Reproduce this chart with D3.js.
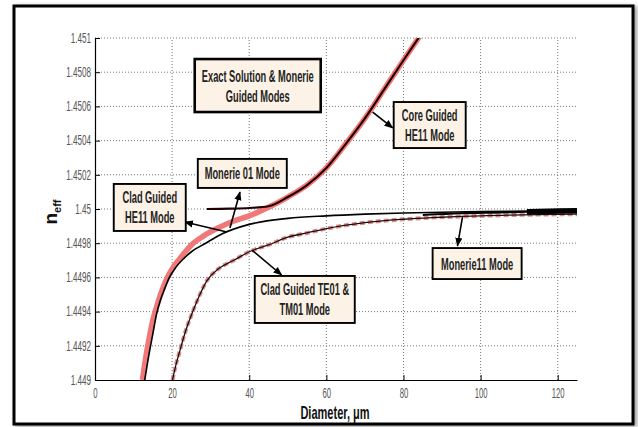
<!DOCTYPE html>
<html lang="en">
<head>
<meta charset="UTF-8" />
<title>n_eff vs Diameter</title>
<script src="https://d3js.org/d3.v7.min.js"></script>
<style>
  body { margin: 0; background: #fff; }
  svg { display: block; }
  .tick-lbl { font-family: "Liberation Sans", Arial, sans-serif; font-size: 14px; fill: #555; }
  .note { font-family: "Liberation Sans", Arial, sans-serif; font-size: 16px; font-weight: bold; fill: #222; }
  .axis-title { font-family: "Liberation Sans", Arial, sans-serif; font-weight: bold; fill: #111; }
</style>
</head>
<body>
<svg width="638" height="427"></svg>
<script>
  // ticks
  const xTicks = [0, 20, 40, 60, 80, 100, 120];
  const yTicks = [1.449, 1.4492, 1.4494, 1.4496, 1.4498, 1.45, 1.4502, 1.4504, 1.4506, 1.4508, 1.451];
  const yTickLabels = ["1.449", "1.4492", "1.4494", "1.4496", "1.4498", "1.45", "1.4502", "1.4504", "1.4506", "1.4508", "1.451"];

  // exact solution, core guided HE11 (pink)
  const coreX = [12.3, 13, 14, 15, 16, 17, 18, 19, 20, 22, 25, 28, 32, 36, 40, 45, 50, 55, 60, 65, 70, 75, 80, 84.5];
  const coreY = [1.449, 1.44911, 1.44924, 1.44935, 1.44943, 1.4495, 1.44956, 1.44961, 1.44965, 1.44971, 1.44979, 1.44984,
                 1.44989, 1.44993, 1.44996, 1.45001, 1.45007, 1.45014, 1.45024, 1.45038, 1.45053, 1.4507, 1.45087, 1.45102];

  // Monerie 01 mode (black, joins the core curve)
  const mon01X = [29, 35, 40, 45, 50, 55, 60, 65, 70, 75, 80, 84.5];
  const mon01Y = [1.45, 1.450002, 1.450006, 1.450016, 1.45007, 1.45014, 1.45024, 1.45038, 1.45053, 1.4507, 1.45087, 1.45102];

  // clad guided HE11 (black)
  const cladHEX = [12.9, 14, 15, 16, 17, 18, 19.3, 21, 23, 25, 28.7, 33, 40, 50, 60, 70, 80, 100, 125];
  const cladHEY = [1.449, 1.44915, 1.44927, 1.44939, 1.44947, 1.44953, 1.4496, 1.44966, 1.44971, 1.44975, 1.4498, 1.449855,
                   1.44991, 1.449945, 1.44996, 1.44997, 1.449977, 1.449985, 1.44999];

  // clad guided TE01 & TM01 (black with pink dashes)
  const teX = [20.1, 21, 22, 23, 24, 25, 27, 29, 32, 36, 40, 45, 50, 55, 60, 70, 80, 100, 125];
  const teY = [1.449, 1.44909, 1.44917, 1.44925, 1.44932, 1.44938, 1.44949, 1.44958, 1.44965, 1.4497, 1.44975, 1.44979,
               1.449835, 1.44986, 1.449885, 1.44992, 1.44994, 1.44996, 1.44997];

  // Monerie 11 mode (black, heavy at the right end)
  const mon11X = [85, 95, 105, 112, 118, 125];
  const mon11Y = [1.449965, 1.449975, 1.44998, 1.449984, 1.449987, 1.44999];

  // annotation boxes: centre in data units, text lines
  const notes = [
    { x: 42.2, y: 1.450722, w: 126, h: 53, lines: ["Exact Solution & Monerie", "Guided Modes"] },
    { x: 38.2, y: 1.450208, w: 89, h: 29, lines: ["Monerie 01 Mode"] },
    { x: 14.2, y: 1.450009, w: 72, h: 47, lines: ["Clad Guided", "HE11 Mode"] },
    { x: 86.8, y: 1.450491, w: 72, h: 46, lines: ["Core Guided", "HE11 Mode"] },
    { x: 54.4, y: 1.449471, w: 100, h: 47, lines: ["Clad Guided TE01 &", "TM01 Mode"] },
    { x: 99.1, y: 1.449681, w: 89, h: 31, lines: ["Monerie11 Mode"] }
  ];
  // arrows: from (x0,y0) to (x1,y1), data units
  const arrows = [
    { x0: 72, y0: 1.450567, x1: 77.2, y1: 1.450474 },
    { x0: 34.2, y0: 1.449865, x1: 23.3, y1: 1.449924 },
    { x0: 35, y0: 1.449889, x1: 37.6, y1: 1.450099 },
    { x0: 40.7, y0: 1.44976, x1: 48.4, y1: 1.449614 },
    { x0: 95.3, y0: 1.449953, x1: 94.0, y1: 1.449784 }
  ];

  const svg = d3.select("svg");
  const margin = { left: 95, right: 61, top: 38, bottom: 47 };
  const W = 638, H = 427;

  const x = d3.scaleLinear().domain([0, 125]).range([margin.left, W - margin.right]);
  const y = d3.scaleLinear().domain([1.449, 1.451]).range([H - margin.bottom, margin.top]);

  // squeeze text horizontally (narrow font look)
  function squeeze(sel, k) {
    sel.each(function () {
      const L = this.getComputedTextLength();
      d3.select(this).attr("textLength", L * k).attr("lengthAdjust", "spacingAndGlyphs");
    });
  }

  // frame with shadow
  const defs = svg.append("defs");
  const f = defs.append("filter").attr("id", "shadow").attr("x", "-5%").attr("y", "-5%").attr("width", "110%").attr("height", "110%");
  f.append("feGaussianBlur").attr("stdDeviation", 2);
  defs.append("clipPath").attr("id", "clip").append("rect")
    .attr("x", x(0)).attr("y", y(1.451)).attr("width", x(125) - x(0)).attr("height", y(1.449) - y(1.451));

  svg.append("rect").attr("x", 15).attr("y", 6).attr("width", 622).attr("height", 421)
    .attr("fill", "#999").attr("filter", "url(#shadow)");
  svg.append("rect").attr("x", 14).attr("y", 6).attr("width", 619).attr("height", 418)
    .attr("fill", "#fff").attr("stroke", "#000").attr("stroke-width", 3);

  // grid
  const grid = svg.append("g").attr("stroke", "#777").attr("stroke-width", 1).attr("stroke-dasharray", "1,2");
  grid.selectAll(".gx").data(xTicks.slice(1)).enter().append("line")
    .attr("x1", d => x(d)).attr("x2", d => x(d)).attr("y1", y(1.449)).attr("y2", y(1.451));
  grid.selectAll(".gy").data(yTicks.slice(1)).enter().append("line")
    .attr("x1", x(0)).attr("x2", x(125)).attr("y1", d => y(d)).attr("y2", d => y(d));

  // axes
  const xAxis = svg.append("g").attr("transform", `translate(0,${y(1.449)})`)
    .call(d3.axisBottom(x).tickValues(xTicks).tickSizeInner(-5).tickSizeOuter(0).tickPadding(8));
  const yAxis = svg.append("g").attr("transform", `translate(${x(0)},0)`)
    .call(d3.axisLeft(y).tickValues(yTicks).tickFormat((d, i) => yTickLabels[i]).tickSizeInner(-5).tickSizeOuter(0).tickPadding(4));
  [xAxis, yAxis].forEach(a => {
    a.select(".domain").attr("stroke", "#000").attr("stroke-width", 1.2);
    a.selectAll(".tick line").attr("stroke", "#000");
    a.selectAll(".tick text").attr("class", "tick-lbl").attr("font-family", null).attr("font-size", null);
  });
  yAxis.selectAll(".tick text").attr("dy", "0.3em");
  squeeze(yAxis.selectAll(".tick text"), 0.58);
  squeeze(xAxis.selectAll(".tick text"), 0.55);

  const line = (xs, ys) => d3.line().x(d => x(d[0])).y(d => y(d[1])).curve(d3.curveMonotoneX)(xs.map((v, i) => [v, ys[i]]));
  const plot = svg.append("g").attr("clip-path", "url(#clip)").attr("fill", "none");

  // TE01 pink dashes under black
  plot.append("path").attr("d", line(teX, teY)).attr("stroke", "#e58a8a").attr("stroke-width", 4).attr("stroke-dasharray", "5,3");
  plot.append("path").attr("d", line(teX, teY)).attr("stroke", "#111").attr("stroke-width", 1.3);
  // core pink
  plot.append("path").attr("d", line(coreX, coreY)).attr("stroke", "#f07878").attr("stroke-width", 5.5);
  // clad HE11
  plot.append("path").attr("d", line(cladHEX, cladHEY)).attr("stroke", "#000").attr("stroke-width", 1.6);
  // Monerie 01
  plot.append("path").attr("d", line(mon01X, mon01Y)).attr("stroke", "#200").attr("stroke-width", 2.1);
  // Monerie 11
  plot.append("path").attr("d", line(mon11X, mon11Y)).attr("stroke", "#000").attr("stroke-width", 2.2);
  plot.append("path").attr("d", line(mon11X.slice(-3), mon11Y.slice(-3))).attr("stroke", "#000").attr("stroke-width", 5.5);

  // arrows
  defs.append("marker").attr("id", "ah").attr("viewBox", "0 0 10 10").attr("refX", 9).attr("refY", 5)
    .attr("markerWidth", 9).attr("markerHeight", 9).attr("markerUnits", "userSpaceOnUse").attr("orient", "auto")
    .append("path").attr("d", "M0,1 L10,5 L0,9 Z").attr("fill", "#000");
  svg.append("g").selectAll("line").data(arrows).enter().append("line")
    .attr("x1", d => x(d.x0)).attr("y1", d => y(d.y0)).attr("x2", d => x(d.x1)).attr("y2", d => y(d.y1))
    .attr("stroke", "#000").attr("stroke-width", 1.6).attr("marker-end", "url(#ah)");

  // note boxes
  const ng = svg.append("g").selectAll("g").data(notes).enter().append("g")
    .attr("transform", d => `translate(${x(d.x)},${y(d.y)})`);
  ng.append("rect").attr("x", d => -d.w / 2).attr("y", d => -d.h / 2).attr("width", d => d.w).attr("height", d => d.h)
    .attr("fill", "#fcf2e6").attr("stroke", "#000").attr("stroke-width", (d, i) => i === 0 ? 2.6 : 1.9);
  ng.each(function (d) {
    const n = d.lines.length;
    d.lines.forEach((t, i) => {
      d3.select(this).append("text").attr("class", "note").attr("text-anchor", "middle")
        .attr("y", (i - (n - 1) / 2) * 20 + 6).text(t);
    });
  });
  squeeze(ng.selectAll("text"), 0.58);

  // axis titles
  const xt = svg.append("text").attr("class", "axis-title").attr("font-size", 19).attr("text-anchor", "middle")
    .attr("x", x(62.5) - 1).attr("y", 419).text("Diameter, μm");
  squeeze(xt, 0.58);
  const yt = svg.append("text").attr("class", "axis-title").attr("text-anchor", "middle")
    .attr("transform", `translate(57,${y(1.45) + 3}) rotate(-90)`);
  yt.append("tspan").attr("font-size", 19).text("n");
  yt.append("tspan").attr("font-size", 11).attr("dy", 4).text("eff");
</script>
</body>
</html>
